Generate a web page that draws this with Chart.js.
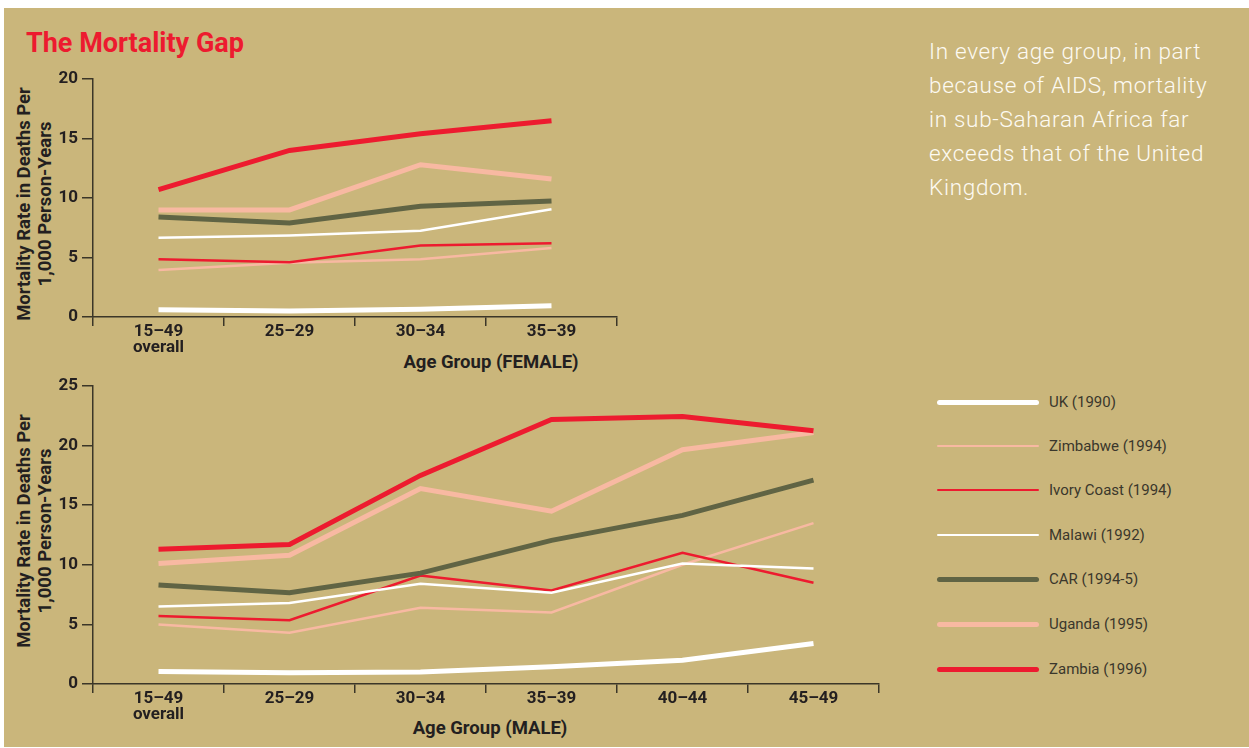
<!DOCTYPE html>
<html>
<head>
<meta charset="utf-8">
<script src="https://cdn.jsdelivr.net/npm/chart.js@4"></script>
<style>
  html, body { margin: 0; padding: 0; background: #fff; }
  #panel { position: absolute; left: 4px; top: 8px; width: 1245px; height: 739px; background: #cab67b; }
  .abs { position: absolute; }
  canvas { position: absolute; }
  #title { left: 26px; top: 30px; font: bold 27px Roboto, sans-serif; line-height: 1; color: #ed1b2f; }
  #note { left: 929px; top: 34px; width: 320px; font: 300 22.5px Roboto, sans-serif; letter-spacing: 0.7px;
          line-height: 34px; color: #fdfaf2; white-space: nowrap; }
  .ytitle { font: bold 18.5px Roboto, sans-serif; line-height: 21px; color: #231f20; text-align: center;
            white-space: nowrap; transform: translate(-50%, -50%) rotate(-90deg); }
  .xtitle { font: bold 18.5px Roboto, sans-serif; color: #231f20; white-space: nowrap; transform: translate(-50%, -50%); }
  .leg { position: absolute; left: 937px; display: flex; align-items: center; transform: translateY(-50%);
         font: 15px Roboto, sans-serif; color: #3a372c; }
  .leg span.ln { display: inline-block; width: 102px; border-radius: 3px; margin-right: 10px; }
</style>
</head>
<body>
<div id="panel"></div>
<div id="title" class="abs">The Mortality Gap</div>
<div id="note" class="abs">In every age group, in part<br>because of AIDS, mortality<br>in sub-Saharan Africa far<br>exceeds that of the United<br>Kingdom.</div>

<div class="abs ytitle" style="left:35px; top:204px;">Mortality Rate in Deaths Per<br>1,000 Person-Years</div>
<div class="abs xtitle" style="left:491px; top:362px;">Age Group (FEMALE)</div>
<div class="abs ytitle" style="left:35px; top:531px;">Mortality Rate in Deaths Per<br>1,000 Person-Years</div>
<div class="abs xtitle" style="left:490px; top:728px;">Age Group (MALE)</div>

<canvas id="female" width="640" height="300" style="left:0; top:60px;"></canvas>
<canvas id="male" width="900" height="370" style="left:0; top:370px;"></canvas>
<div id="legend"></div>

<script>
var seriesNames = ["UK (1990)", "Zimbabwe (1994)", "Ivory Coast (1994)", "Malawi (1992)", "CAR (1994-5)", "Uganda (1995)", "Zambia (1996)"];
var seriesColors = ["#ffffff", "#f8b9a2", "#ed1b2f", "#ffffff", "#606444", "#f8b9a2", "#ed1b2f"];
var seriesWidths = [5, 2.5, 2.5, 2.5, 5, 5, 5];

var femaleAges = [["15–49", "overall"], "25–29", "30–34", "35–39"];
var maleAges = [["15–49", "overall"], "25–29", "30–34", "35–39", "40–44", "45–49"];

// female rates per 1,000 person-years
var femaleUK = [0.6, 0.5, 0.65, 0.95];
var femaleZimbabwe = [3.95, 4.55, 4.85, 5.8];
var femaleIvoryCoast = [4.85, 4.6, 6.0, 6.2];
var femaleMalawi = [6.65, 6.85, 7.25, 9.05];
var femaleCAR = [8.4, 7.9, 9.3, 9.75];
var femaleUganda = [9.0, 9.0, 12.8, 11.6];
var femaleZambia = [10.7, 14.0, 15.4, 16.5];

// male rates
var maleUK = [1.05, 0.95, 1.0, 1.45, 2.0, 3.4];
var maleZimbabwe = [5.0, 4.3, 6.4, 6.0, 10.0, 13.5];
var maleIvoryCoast = [5.7, 5.35, 9.1, 7.85, 11.0, 8.5];
var maleMalawi = [6.5, 6.8, 8.4, 7.65, 10.1, 9.7];
var maleCAR = [8.3, 7.65, 9.3, 12.05, 14.15, 17.1];
var maleUganda = [10.1, 10.8, 16.4, 14.5, 19.65, 21.1];
var maleZambia = [11.3, 11.7, 17.5, 22.2, 22.45, 21.25];

var femaleTicks = [0, 5, 10, 15, 20];
var maleTicks = [0, 5, 10, 15, 20, 25];

Chart.defaults.font.family = "Roboto";
var axisColor = "#3b3628";
var inkColor = "#231f20";

function makeDatasets(rows) {
  return rows.map(function (r, i) {
    return {
      label: seriesNames[i],
      data: r,
      borderColor: seriesColors[i],
      borderWidth: seriesWidths[i],
      pointRadius: 0,
      tension: 0,
      fill: false,
      order: rows.length - i
    };
  });
}

function makeChart(id, labels, rows, yMax, pad, xHeight) {
  return new Chart(document.getElementById(id), {
    type: "line",
    data: { labels: labels, datasets: makeDatasets(rows) },
    options: {
      responsive: false,
      animation: false,
      layout: { padding: pad },
      plugins: { legend: { display: false }, tooltip: { enabled: false } },
      scales: {
        x: {
          offset: true,
          grid: { offset: true, drawOnChartArea: false, drawTicks: true, tickLength: 9, color: axisColor, lineWidth: 1.5 },
          border: { display: true, color: axisColor, width: 1.5 },
          ticks: { color: inkColor, font: { size: 17, weight: "bold", lineHeight: 0.95 }, padding: -2, maxRotation: 0 },
          afterFit: function (s) { s.height = xHeight; }
        },
        y: {
          min: 0, max: yMax,
          grid: { drawOnChartArea: false, drawTicks: true, tickLength: 11, color: axisColor, lineWidth: 1.5 },
          border: { display: true, color: axisColor, width: 1.5 },
          ticks: { stepSize: 5, color: inkColor, font: { size: 17, weight: "bold" }, padding: 4 },
          afterFit: function (s) { s.width = 60; }
        }
      }
    }
  });
}

makeChart("female", femaleAges,
  [femaleUK, femaleZimbabwe, femaleIvoryCoast, femaleMalawi, femaleCAR, femaleUganda, femaleZambia],
  femaleTicks[femaleTicks.length - 1], { left: 33, top: 19, right: 23, bottom: 0 }, 43);

makeChart("male", maleAges,
  [maleUK, maleZimbabwe, maleIvoryCoast, maleMalawi, maleCAR, maleUganda, maleZambia],
  maleTicks[maleTicks.length - 1], { left: 33, top: 16, right: 21, bottom: 0 }, 56);

// legend
var legendRows = [402, 446, 490, 535, 579, 624, 669];
var lg = document.getElementById("legend");
seriesNames.forEach(function (name, i) {
  var d = document.createElement("div");
  d.className = "leg";
  d.style.top = legendRows[i] + "px";
  var ln = document.createElement("span");
  ln.className = "ln";
  ln.style.height = seriesWidths[i] + "px";
  ln.style.background = seriesColors[i];
  d.appendChild(ln);
  d.appendChild(document.createTextNode(name));
  lg.appendChild(d);
});
</script>
</body>
</html>
